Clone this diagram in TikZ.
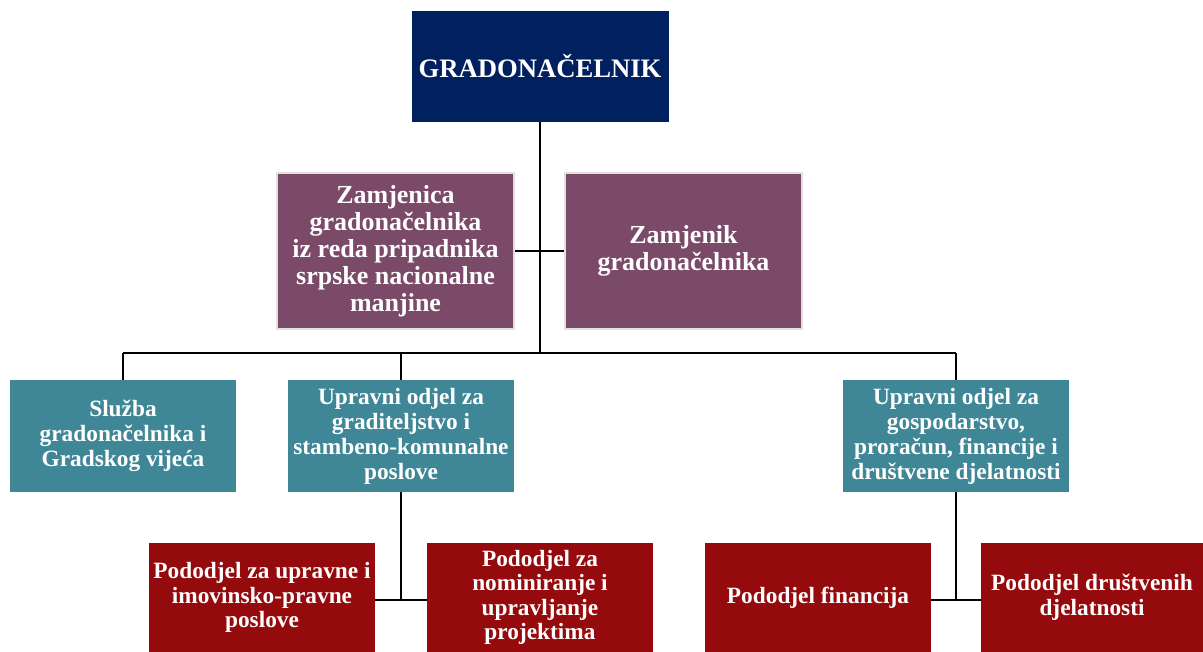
\documentclass[tikz,border=0pt]{standalone}
\usepackage{fontspec}
\setmainfont{Liberation Serif}
\definecolor{navy}{RGB}{0,32,96}
\definecolor{plum}{RGB}{123,74,105}
\definecolor{tealc}{RGB}{63,135,151}
\definecolor{darkred}{RGB}{149,10,12}
\definecolor{lgray}{RGB}{225,225,225}
\begin{document}
\begin{tikzpicture}[x=0.75pt,y=-0.75pt,
  box/.style={inner sep=0pt,align=center,text=white,font=\bfseries},
  topbox/.style={box,fill=navy,minimum width=192.75pt,minimum height=83.25pt,font=\bfseries\fontsize{20}{24}\selectfont},
  deputy/.style={box,fill=plum,draw=lgray,line width=1.5pt,minimum width=178pt,minimum height=117pt,font=\bfseries\fontsize{19.5}{20.25}\selectfont},
  dept/.style={box,fill=tealc,minimum width=169.5pt,minimum height=84pt,font=\bfseries\fontsize{17.5}{18.75}\selectfont},
  subdept/.style={box,fill=darkred,minimum width=169.5pt,minimum height=82pt,font=\bfseries\fontsize{17.5}{18.4}\selectfont},
  link/.style={draw=black,line width=2pt}]
\useasboundingbox (0,0) rectangle (1203,652);
\node[topbox] (g) at (540,66.5) {GRADONAČELNIK};
\node[deputy] (z1) at (395.5,251) {Zamjenica\\gradonačelnika\\iz reda pripadnika\\srpske nacionalne\\manjine};
\node[deputy] (z2) at (683.5,251) {Zamjenik\\gradonačelnika};
\node[dept] (s1) at (123,436) {Služba\\gradonačelnika i\\Gradskog vijeća};
\node[dept] (s2) at (401,436) {Upravni odjel za\\graditeljstvo i\\stambeno-komunalne\\poslove};
\node[dept] (s3) at (956,436) {Upravni odjel za\\gospodarstvo,\\proračun, financije i\\društvene djelatnosti};
\node[subdept] (p1) at (262,597.5) {Pododjel za upravne i\\imovinsko-pravne\\poslove};
\node[subdept] (p2) at (540,597.5) {Pododjel za\\nominiranje i\\upravljanje\\projektima};
\node[subdept] (p3) at (818,597.5) {Pododjel financija};
\node[subdept,minimum width=166.5pt] (p4) at (1092,597.5) {Pododjel društvenih\\djelatnosti};
\coordinate (bus) at (540,353);
\coordinate (busL) at (123,353);
\coordinate (busM) at (401,353);
\coordinate (busR) at (956,353);
\coordinate (j1) at (401,600);
\coordinate (j2) at (956,600);
\draw[link] (g.south) -- (bus);
\draw[link] (z1.east) -- (z2.west);
\draw[link] (busL) -- (busR);
\draw[link] (busL) -- (s1.north);
\draw[link] (busM) -- (s2.north);
\draw[link] (busR) -- (s3.north);
\draw[link] (s2.south) -- (j1);
\draw[link] (p1.east |- j1) -- (p2.west |- j1);
\draw[link] (s3.south) -- (j2);
\draw[link] (p3.east |- j2) -- (p4.west |- j2);
\end{tikzpicture}
\end{document}
